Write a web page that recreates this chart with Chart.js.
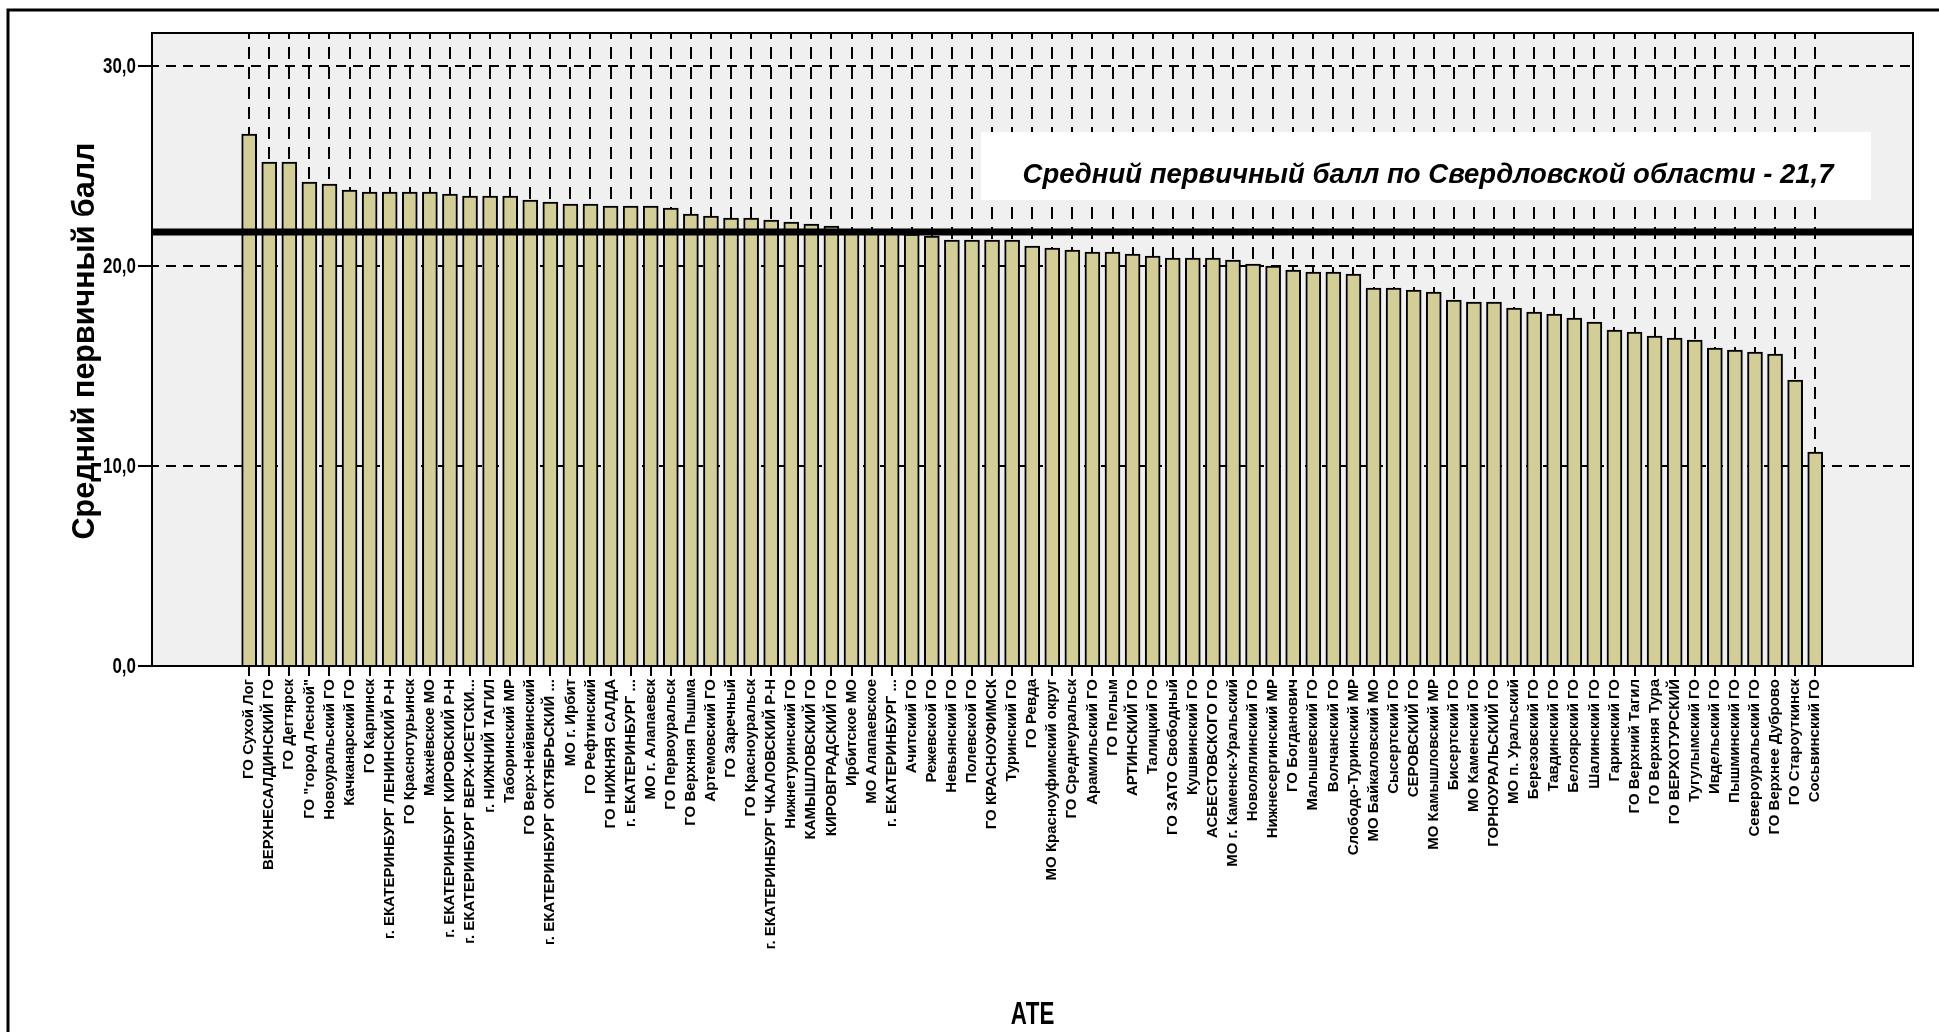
<!DOCTYPE html>
<html>
<head>
<meta charset="utf-8">
<script src="https://cdn.jsdelivr.net/npm/chart.js"></script>
<style>
    html, body { margin: 0; padding: 0; background: #ffffff; }
    #wrap { position: relative; width: 1939px; height: 1032px; }
</style>
</head>
<body>
<div id="wrap"><canvas id="grafico"></canvas></div>
<script>
// Данные >>>>>>>>>>>>>>>>>>>>>>>>>>>>>>>>>>>>>>>>>>>>>>>>>>>>>>>>>>>>>>>>
const ate = [
    "ГО Сухой Лог", "ВЕРХНЕСАЛДИНСКИЙ ГО", "ГО Дегтярск", 'ГО "город Лесной"',
    "Новоуральский ГО", "Качканарский ГО", "ГО Карпинск",
    "г. ЕКАТЕРИНБУРГ ЛЕНИНСКИЙ Р-Н", "ГО Краснотурьинск", "Махнёвское МО",
    "г. ЕКАТЕРИНБУРГ КИРОВСКИЙ Р-Н", "г. ЕКАТЕРИНБУРГ ВЕРХ-ИСЕТСКИ...",
    "г. НИЖНИЙ ТАГИЛ", "Таборинский МР", "ГО Верх-Нейвинский",
    "г. ЕКАТЕРИНБУРГ ОКТЯБРЬСКИЙ ...", "МО г. Ирбит", "ГО Рефтинский",
    "ГО НИЖНЯЯ САЛДА", "г. ЕКАТЕРИНБУРГ ...", "МО г. Алапаевск",
    "ГО Первоуральск", "ГО Верхняя Пышма", "Артемовский ГО", "ГО Заречный",
    "ГО Красноуральск", "г. ЕКАТЕРИНБУРГ ЧКАЛОВСКИЙ Р-Н", "Нижнетуринский ГО",
    "КАМЫШЛОВСКИЙ ГО", "КИРОВГРАДСКИЙ ГО", "Ирбитское МО", "МО Алапаевское",
    "г. ЕКАТЕРИНБУРГ ...", "Ачитский ГО", "Режевской ГО", "Невьянский ГО",
    "Полевской ГО", "ГО КРАСНОУФИМСК", "Туринский ГО", "ГО Ревда",
    "МО Красноуфимский округ", "ГО Среднеуральск", "Арамильский ГО", "ГО Пелым",
    "АРТИНСКИЙ ГО", "Талицкий ГО", "ГО ЗАТО Свободный", "Кушвинский ГО",
    "АСБЕСТОВСКОГО ГО", "МО г. Каменск-Уральский", "Новолялинский ГО",
    "Нижнесергинский МР", "ГО Богданович", "Малышевский ГО", "Волчанский ГО",
    "Слободо-Туринский МР", "МО Байкаловский МО", "Сысертский ГО", "СЕРОВСКИЙ ГО",
    "МО Камышловский МР", "Бисертский ГО", "МО Каменский ГО", "ГОРНОУРАЛЬСКИЙ ГО",
    "МО п. Уральский", "Березовский ГО", "Тавдинский ГО", "Белоярский ГО",
    "Шалинский ГО", "Гаринский ГО", "ГО Верхний Тагил", "ГО Верхняя Тура",
    "ГО ВЕРХОТУРСКИЙ", "Тугулымский ГО", "Ивдельский ГО", "Пышминский ГО",
    "Североуральский ГО", "ГО Верхнее Дуброво", "ГО Староуткинск", "Сосьвинский ГО",
];

const srednijBall = [
    26.6, 25.2, 25.2, 24.2, 24.1, 23.8, 23.7, 23.7, 23.7, 23.7,
    23.6, 23.5, 23.5, 23.5, 23.3, 23.2, 23.1, 23.1, 23.0, 23.0,
    23.0, 22.9, 22.6, 22.5, 22.4, 22.4, 22.3, 22.2, 22.1, 22.0,
    21.8, 21.8, 21.7, 21.6, 21.5, 21.3, 21.3, 21.3, 21.3, 21.0,
    20.9, 20.8, 20.7, 20.7, 20.6, 20.5, 20.4, 20.4, 20.4, 20.3,
    20.1, 20.0, 19.8, 19.7, 19.7, 19.6, 18.9, 18.9, 18.8, 18.7,
    18.3, 18.2, 18.2, 17.9, 17.7, 17.6, 17.4, 17.2, 16.8, 16.7,
    16.5, 16.4, 16.3, 15.9, 15.8, 15.7, 15.6, 14.3, 10.7,
];

const srednijPoOblasti = 21.7; // среднее по области
const yTicks = [0, 10, 20, 30];
const podpis = "Средний первичный балл по Свердловской области - 21,7";
const xTitle = "АТЕ";
const yTitle = "Средний первичный балл";

const fontArial = '"Liberation Sans", Arial, sans-serif';

// текст "узким" шрифтом (как Arial Narrow) - сжимаем по горизонтали
function narrowText(ctx, text, x, y, size, sx, align) {
    ctx.save();
    ctx.translate(x, y);
    ctx.scale(sx, 1);
    ctx.font = `bold ${size}px ${fontArial}`;
    ctx.fillStyle = "#000";
    ctx.textAlign = align;
    ctx.textBaseline = "middle";
    ctx.fillText(text, 0, 0);
    ctx.restore();
}

// Плагины >>>>>>>>>>>>>>>>>>>>>>>>>>>>>>>>>>>>>>>>>>>>>>>>>>>>>>>>>>>>>>>
const fonPlugin = {
    id: "fon",
    beforeDraw(chart) {
        const { ctx, chartArea: a } = chart;
        ctx.save();
        // внешняя рамка (видны только левая и верхняя стороны)
        ctx.strokeStyle = "#000";
        ctx.lineWidth = 3;
        ctx.beginPath();
        ctx.moveTo(8, chart.height);
        ctx.lineTo(8, 10);
        ctx.lineTo(chart.width, 10);
        ctx.stroke();
        // фон области построения
        ctx.fillStyle = "#f0f0f0";
        ctx.fillRect(a.left, a.top, a.right - a.left, a.bottom - a.top);
        ctx.restore();
    },
};

const srednijPlugin = {
    id: "srednij",
    afterDatasetsDraw(chart) {
        const { ctx, chartArea: a, scales } = chart;
        const y = scales.y.getPixelForValue(srednijPoOblasti);
        ctx.save();
        // жирная линия среднего
        ctx.strokeStyle = "#000";
        ctx.lineWidth = 7;
        ctx.beginPath();
        ctx.moveTo(a.left, y);
        ctx.lineTo(a.right, y);
        ctx.stroke();

        // белая плашка с подписью
        const bx = a.left + 829;
        const by = a.top + 99;
        const bw = 890;
        const bh = 68;
        ctx.fillStyle = "#ffffff";
        ctx.fillRect(bx, by, bw, bh);
        ctx.fillStyle = "#000";
        ctx.font = `italic bold 27.5px ${fontArial}`;
        ctx.textAlign = "center";
        ctx.textBaseline = "middle";
        ctx.fillText(podpis, bx + bw / 2 + 2, by + 43);

        // рамка области построения
        ctx.lineWidth = 2;
        ctx.strokeRect(a.left, a.top, a.right - a.left, a.bottom - a.top);
        ctx.restore();
    },
    afterDraw(chart) {
        const { ctx, chartArea: a, scales } = chart;
        // подписи оси Y
        scales.y.ticks.forEach((t) => {
            const y = scales.y.getPixelForValue(t.value);
            narrowText(ctx, t.value.toFixed(1).replace(".", ","), a.left - 16, y + 1, 22, 0.77, "right");
        });
        // название оси X
        narrowText(ctx, xTitle, (a.left + a.right) / 2, 1015, 31, 0.72, "center");

        // название оси Y (повёрнуто)
        ctx.save();
        ctx.translate(86, 341);
        ctx.rotate(-Math.PI / 2);
        ctx.font = `bold 30.5px ${fontArial}`;
        ctx.fillStyle = "#000";
        ctx.textAlign = "center";
        ctx.textBaseline = "middle";
        ctx.fillText(yTitle, 0, 0);
        ctx.restore();
    },
};

// График >>>>>>>>>>>>>>>>>>>>>>>>>>>>>>>>>>>>>>>>>>>>>>>>>>>>>>>>>>>>>>>>
const ctx = document.getElementById("grafico").getContext("2d");

new Chart(ctx, {
    type: "bar",
    data: {
        datasets: [
            {
                label: "Средний первичный балл",
                data: srednijBall.map((v, i) => ({ x: i, y: v })),
                backgroundColor: "#d3ce97",
                borderColor: "#000000",
                borderWidth: 2,
                borderSkipped: "bottom",
                barThickness: 15,
            },
        ],
    },
    options: {
        responsive: true,
        maintainAspectRatio: false,
        animation: false,
        devicePixelRatio: 1,
        layout: {
            padding: { left: 0, top: 33, right: 26, bottom: 0 },
        },
        plugins: {
            legend: { display: false },
            tooltip: { enabled: false },
        },
        scales: {
            x: {
                type: "linear",
                min: -4.84,
                max: 82.87,
                offset: false,
                afterBuildTicks: (scale) => {
                    scale.ticks = ate.map((_, i) => ({ value: i }));
                },
                afterFit: (scale) => {
                    scale.height = 366;
                },
                ticks: {
                    autoSkip: false,
                    minRotation: 90,
                    maxRotation: 90,
                    padding: 3,
                    color: "#000",
                    font: { family: fontArial, size: 15, weight: "bold" },
                    callback: (v) => ate[v],
                },
                grid: {
                    offset: false,
                    color: "#000",
                    lineWidth: 2,
                    tickLength: 10,
                    tickColor: "#000",
                    tickWidth: 2,
                },
                border: {
                    display: true,
                    color: "#000",
                    width: 2,
                    dash: [12, 8],
                    dashOffset: 6,
                },
            },
            y: {
                min: 0,
                max: 31.65,
                afterBuildTicks: (scale) => {
                    scale.ticks = yTicks.map((v) => ({ value: v }));
                },
                afterFit: (scale) => {
                    scale.width = 152;
                },
                ticks: {
                    display: false,
                },
                grid: {
                    color: "#000",
                    lineWidth: 2,
                    tickLength: 14,
                    tickColor: "#000",
                    tickWidth: 2,
                },
                border: {
                    display: true,
                    color: "#000",
                    width: 2,
                    dash: [10, 7],
                    dashOffset: 4,
                },
            },
        },
    },
    plugins: [fonPlugin, srednijPlugin],
});
</script>
</body>
</html>
